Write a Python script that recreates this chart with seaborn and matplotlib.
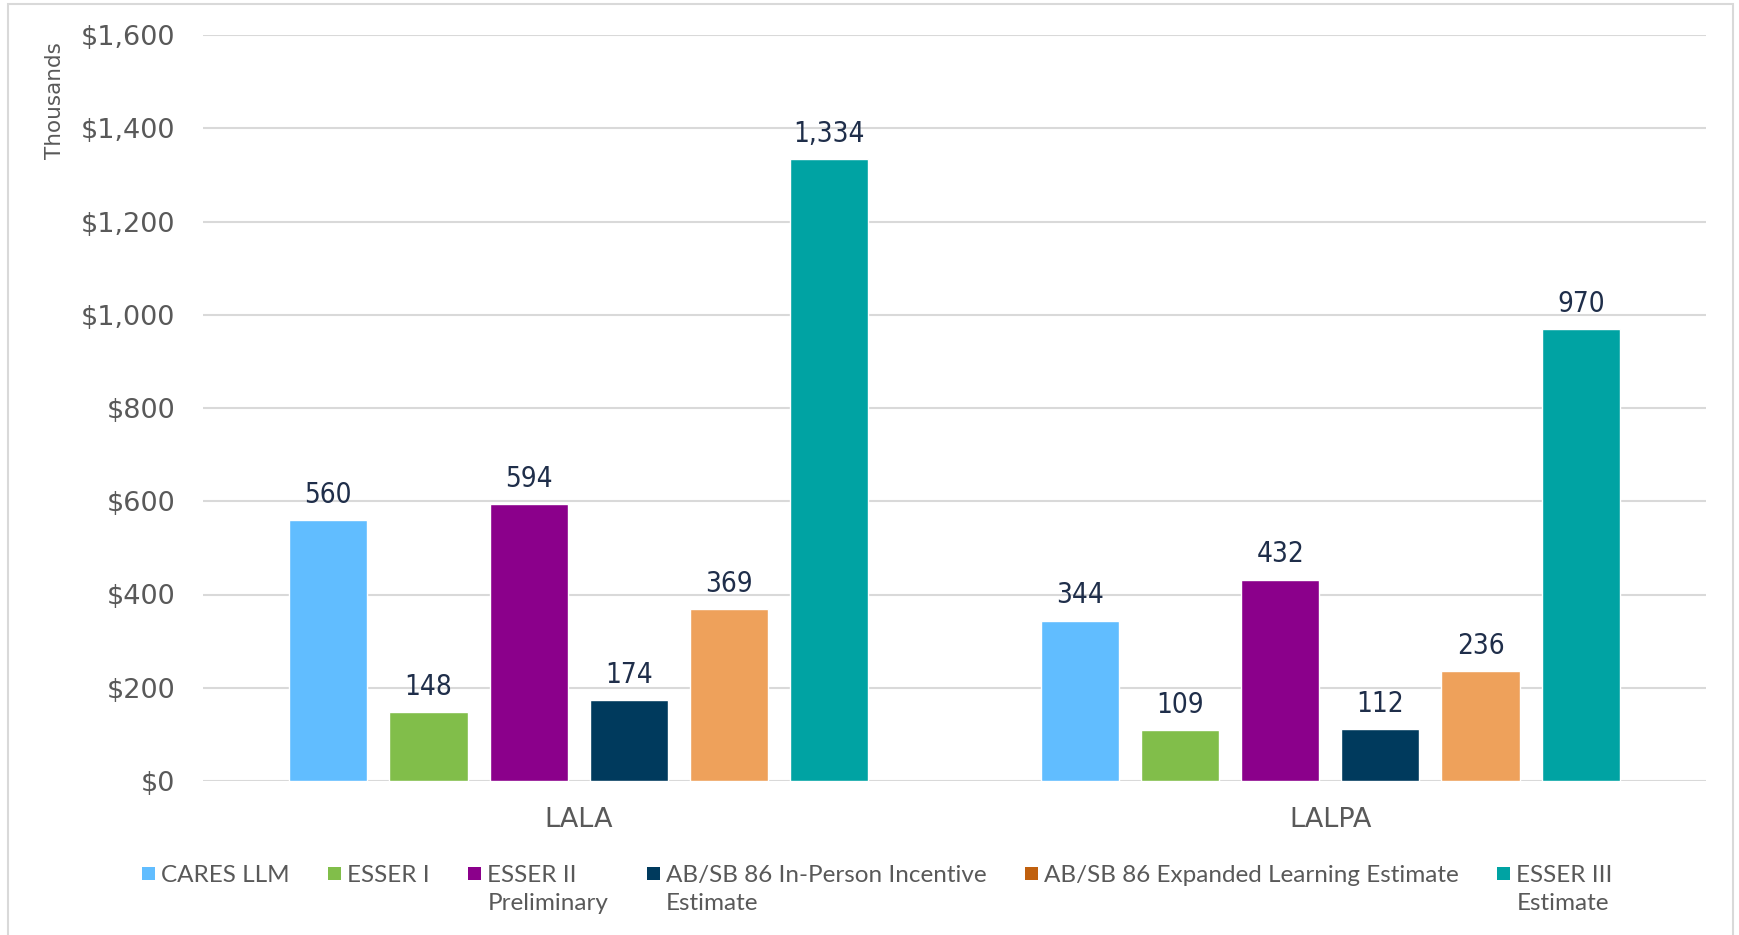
import matplotlib
matplotlib.use("Agg")
import matplotlib.pyplot as plt
import seaborn as sns
import pandas as pd
from matplotlib.patches import Rectangle
from matplotlib.legend_handler import HandlerPatch
from matplotlib.ticker import FuncFormatter

# ---------------- data ----------------
categories = ["LALA", "LALPA"]
series = ["CARES LLM", "ESSER I", "ESSER II Preliminary",
          "AB/SB 86 In-Person Incentive Estimate",
          "AB/SB 86 Expanded Learning Estimate", "ESSER III Estimate"]
legend_labels = ["CARES LLM\n", "ESSER I\n", "ESSER II\nPreliminary",
                 "AB/SB 86 In-Person Incentive\nEstimate",
                 "AB/SB 86 Expanded Learning Estimate\n", "ESSER III\nEstimate"]
lala_values = [560, 148, 594, 174, 369, 1334]
lalpa_values = [344, 109, 432, 112, 236, 970]
bar_colors = ["#61BDFF", "#81BE4A", "#8B008B", "#003A5D", "#EEA15B", "#00A3A3"]
legend_colors = ["#61BDFF", "#81BE4A", "#8B008B", "#003A5D", "#C0600E", "#00A3A3"]
yticks = [0, 200, 400, 600, 800, 1000, 1200, 1400, 1600]

rows = []
for s, a, b in zip(series, lala_values, lalpa_values):
    rows.append({"category": categories[0], "series": s, "value": a})
    rows.append({"category": categories[1], "series": s, "value": b})
df = pd.DataFrame(rows)

gray = "#595959"
label_col = "#1F2E4A"

sns.set_theme(style="white")
plt.rcParams["font.family"] = ["DejaVu Sans"]

fig = plt.figure(figsize=(17.39, 9.35), dpi=100)
ax = fig.add_axes([203 / 1739, 1 - 781 / 935, (1706 - 203) / 1739, (781 - 35) / 935])

sns.barplot(data=df, x="category", y="value", hue="series", order=categories,
            hue_order=series, palette=bar_colors, width=0.8, gap=0.22,
            saturation=1, ax=ax, legend=False, errorbar=None)

for cont in ax.containers:
    ax.bar_label(cont, labels=[f"{v:,.0f}" for v in cont.datavalues],
                 padding=8, fontsize=20, color=label_col,
                 family="DejaVu Sans", fontstretch="condensed")

ax.set_xlim(-0.5, 1.5)
ax.set_ylim(0, 1600)
ax.set_yticks(yticks)
ax.yaxis.set_major_formatter(FuncFormatter(lambda v, p: f"${v:,.0f}"))
ax.set_xlabel("")
ax.set_ylabel("")
ax.grid(axis="y", color="#D9D9D9", linewidth=1.5)
ax.grid(axis="x", visible=False)
ax.set_axisbelow(True)
for sp in ax.spines.values():
    sp.set_visible(False)
ax.tick_params(axis="y", labelsize=19.5, labelcolor=gray, pad=20, length=0)
ax.tick_params(axis="x", labelsize=19.5, labelcolor=gray, pad=19, length=0)

fig.text(55 / 1739, 1 - 101 / 935, "Thousands", rotation=90, ha="center",
         va="center", fontsize=15.5, color=gray)

LEG_FS = 17.5
SQUARE_Y = 17.6  # centre of the legend square, points above the handle origin


def top_square(legend, orig_handle, xdescent, ydescent, width, height, fontsize):
    side = 0.54 * fontsize
    return Rectangle((-xdescent + width - side, SQUARE_Y - side / 2), side, side)


handles = [Rectangle((0, 0), 1, 1, facecolor=c, edgecolor="none") for c in legend_colors]
leg = fig.legend(handles, legend_labels, loc="upper center",
                 bbox_to_anchor=(0.504, 1 - 853 / 935), ncol=6, frameon=False,
                 prop={"family": "Lato", "size": LEG_FS}, labelcolor=gray,
                 handlelength=0.6, handleheight=2.3, handletextpad=0.25,
                 columnspacing=1.52, borderpad=0, labelspacing=0.2,
                 handler_map={Rectangle: HandlerPatch(patch_func=top_square)})
for t in leg.get_texts():
    t.set_linespacing(1.43)

# outer chart border
fig.patches.append(Rectangle((8 / 1739, -0.05), (1733 - 8) / 1739, 1.05 - 4 / 935,
                             transform=fig.transFigure, fill=False,
                             edgecolor="#D9D9D9", linewidth=1.5))

fig.savefig("out.png", dpi=100)
